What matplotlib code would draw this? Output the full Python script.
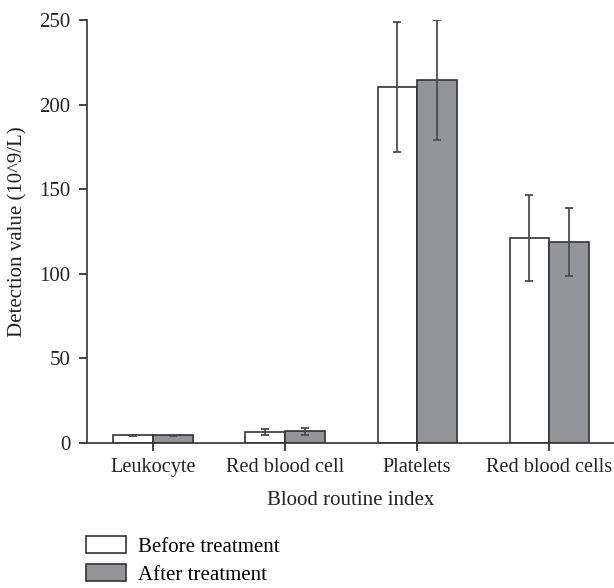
import matplotlib
matplotlib.use("Agg")
import matplotlib.pyplot as plt
import numpy as np
from matplotlib.patches import Patch

categories = ["Leukocyte", "Red blood cell", "Platelets", "Red blood cells"]
before_vals = [4.5, 6.4, 210.4, 121.2]
before_err = [0.3, 1.7, 38.5, 25.5]
after_vals = [4.5, 6.8, 214.5, 118.8]
after_err = [0.5, 1.8, 35.3, 19.9]
series_labels = ["Before treatment", "After treatment"]
yticks = [0, 50, 100, 150, 200, 250]

plt.rcParams['font.family'] = ['Liberation Serif', 'DejaVu Serif']
fs = 15

fig = plt.figure(figsize=(6.14, 5.88), dpi=100)
ax = fig.add_axes([87/614, 1 - 443/588, (614-87)/614, (443-20)/588])

x = np.arange(len(categories))
w = 0.3
edge = "#333333"
gray = "#939598"
ekw = dict(ecolor="#4d4d4d", elinewidth=1.3, capsize=3, capthick=1.3)
ax.bar(x - w/2, before_vals, w, yerr=before_err, color="white", edgecolor=edge, linewidth=1.2, error_kw=ekw, zorder=2)
ax.bar(x + w/2, after_vals, w, yerr=after_err, color=gray, edgecolor=edge, linewidth=1.2, error_kw=ekw, zorder=2)

ax.set_xlim(-0.5, 3.49)
ax.set_ylim(0, 250)
ax.set_yticks(yticks)
ax.set_xticks(x)
ax.set_xticklabels(categories, fontsize=14.6, color="#222222")
ax.tick_params(axis='y', labelsize=fs, colors="#222222", direction='out', length=6, width=1.2, pad=6)
ax.tick_params(axis='x', direction='out', length=6, width=1.2, colors="#222222", pad=5)
for s in ["top", "right"]:
    ax.spines[s].set_visible(False)
for s in ["left", "bottom"]:
    ax.spines[s].set_linewidth(1.2)
    ax.spines[s].set_color("#333333")

ax.set_xlabel("Blood routine index", fontsize=fs, color="#222222", labelpad=10)
ax.set_ylabel("Detection value (10^9/L)", fontsize=fs, color="#222222", labelpad=8)

handles = [Patch(facecolor="white", edgecolor=edge, linewidth=1.2),
           Patch(facecolor=gray, edgecolor=edge, linewidth=1.2)]
fig.legend(handles, series_labels, loc="upper left", bbox_to_anchor=(82/614, 1 - 532/588),
           frameon=False, fontsize=fs, handlelength=1.9, handleheight=0.85,
           handletextpad=0.6, labelspacing=0.35, borderaxespad=0, borderpad=0.2)

fig.savefig("out.png", dpi=100)
